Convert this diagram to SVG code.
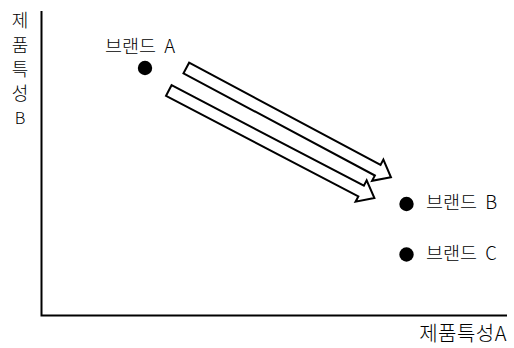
<svg xmlns="http://www.w3.org/2000/svg" width="514" height="348" viewBox="0 0 514 348">
<defs>
<style>
.t{font-family:"Noto Sans CJK KR","Noto Sans",sans-serif;fill:#000;font-weight:300}
.lbl{font-size:18.5px;word-spacing:4px}
.ax{font-size:18px}
.axis{stroke:#000;stroke-width:2;fill:none}
.arr{fill:#fff;stroke:#000;stroke-width:2;stroke-linejoin:miter}
.dot{fill:#000}
</style>
<path id="bigarrow" d="M0,-6 L217,-6 L217,-12 L232,0 L217,12 L217,6 L0,6 Z"/>
</defs>
<rect width="514" height="348" fill="#fff"/>
<g id="axes">
<path class="axis" d="M41.5,11 L41.5,315.5 L507,315.5"/>
<text class="t ax" text-anchor="middle"><tspan x="20" y="27">제</tspan><tspan x="20" y="51.5">품</tspan><tspan x="20" y="76">특</tspan><tspan x="20" y="99.5">성</tspan><tspan x="20" y="124" font-size="16.5">B</tspan></text>
<text class="t" x="507" y="341" text-anchor="end" font-size="20" letter-spacing="0.5">제품특성A</text>
</g>
<g id="brandA">
<circle class="dot" cx="145" cy="68" r="7.2"/>
<text class="t lbl" x="105" y="53">브랜드 A</text>
</g>
<g id="brandB">
<circle class="dot" cx="406.5" cy="204" r="7.2"/>
<text class="t lbl" x="426" y="209">브랜드 B</text>
</g>
<g id="brandC">
<circle class="dot" cx="406.5" cy="254.5" r="7.2"/>
<text class="t lbl" x="426" y="259.5">브랜드 C</text>
</g>
<g id="connectors">
<use href="#bigarrow" class="arr" transform="translate(168.8,90.5) rotate(27.6)"/>
<use href="#bigarrow" class="arr" transform="translate(186.3,68) rotate(28.1)"/>
</g>
</svg>
